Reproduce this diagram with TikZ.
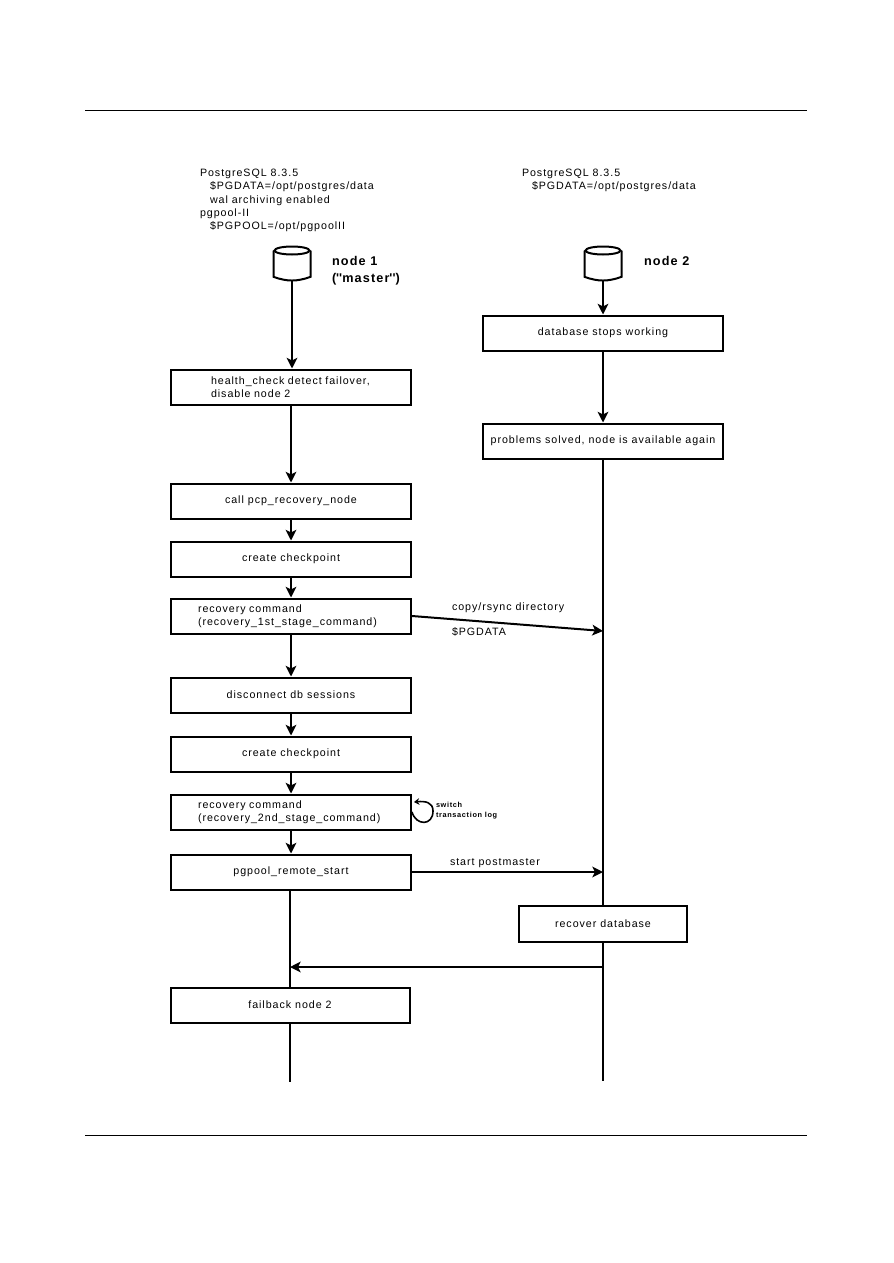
\documentclass[tikz,border=0pt]{standalone}
\usepackage{fontspec}
\setmainfont[LetterSpace=9]{Liberation Sans}
\usetikzlibrary{arrows.meta}
\tikzset{every path/.style={line width=1.5pt,>={Stealth[length=8pt,width=8pt,inset=2pt]}},
  every node/.style={font=\fontsize{8}{10}\selectfont},
  box/.style={draw,fill=white,minimum width=240*0.75pt,minimum height=35*0.75pt,inner sep=0pt,align=center},
  textfirst/.style={box,text width=160*0.75pt,align=left},
  textrec/.style={box,text width=186*0.75pt,align=left},
  note/.style={anchor=north west,align=left,inner sep=0pt},
  nodename/.style={note,font=\fontsize{9.5}{12.75}\selectfont\bfseries},
  db/.style={minimum width=35*0.75pt,minimum height=31*0.75pt,inner sep=0pt}}
\newcommand{\drawdb}[1]{%
  \draw ([yshift=-3pt]#1.north) ellipse [x radius=13.1pt,y radius=3pt];
  \draw ([yshift=-3pt]#1.north west) -- ([yshift=2pt]#1.south west)
     to[out=-20,in=-160] ([yshift=2pt]#1.south east) -- ([yshift=-3pt]#1.north east);}

\begin{document}
\begin{tikzpicture}[x=0.75pt,y=-0.75pt]
   \useasboundingbox (0,0) rectangle (893,1263);
   \draw[line width=0.75pt] (85,110) -- (807,110);
   \draw[line width=0.75pt] (85,1135) -- (807,1135);
   % node 1 column
   \node[note] (conf1) at (199,168) {PostgreSQL 8.3.5\\
     \hspace*{7.5pt}\$PGDATA=/opt/postgres/data\\
     \hspace*{7.5pt}wal archiving enabled\\
     pgpool-II\\
     \hspace*{7.5pt}\$PGPOOL=/opt/pgpoolII};
   \node[db] (db1) at (292,263) {};
   \drawdb{db1}
   \node[nodename] (name1) at (331,255) {node 1\\(\textquotesingle\textquotesingle master\textquotesingle\textquotesingle)};
   \node[textfirst] (health) at (291,387) {\mbox{health\_check detect failover,}\\disable node 2};
   \node[box] (pcp) at (291,501) {call pcp\_recovery\_node};
   \node[box] (check1) at (291,559) {create checkpoint};
   \node[textrec] (rec1) at (291,616) {recovery command\\(recovery\_1st\_stage\_command)};
   \node[box] (disc) at (291,695) {disconnect db sessions};
   \node[box] (check2) at (291,754) {create checkpoint};
   \node[textrec] (rec2) at (291,812) {recovery command\\(recovery\_2nd\_stage\_command)};
   \node[box] (remote) at (291,872) {pgpool\_remote\_start};
   \node[box,minimum width=239*0.75pt] (fail) at (290,1005) {failback node 2};
   % node 2 column
   \node[note] (conf2) at (521,168) {PostgreSQL 8.3.5\\
     \hspace*{7.5pt}\$PGDATA=/opt/postgres/data};
   \node[db] (db2) at (603,263) {};
   \drawdb{db2}
   \node[nodename] (name2) at (643,255) {node 2};
   \node[box] (stops) at (603,333) {database stops working};
   \node[box] (solved) at (603,441) {problems solved, node is available again};
   \node[box,minimum width=168*0.75pt,minimum height=36*0.75pt] (recover) at (603,924) {recover database};
   \coordinate (end1) at (290,1082);
   \coordinate (end2) at (603,1081);
   \coordinate (copyend) at (603,631);
   \coordinate (startend) at (603,873);
   \coordinate (backstart) at (603,967);
   \coordinate (backend) at (290,967);
   \coordinate (loopend) at (414,802);

   \draw[->] (db1) -- (db1 |- health.north);
   \draw[->] (health) -- (pcp);
   \draw[->] (pcp) -- (check1);
   \draw[->] (check1) -- (rec1);
   \draw[->] (rec1) -- (disc);
   \draw[->] (disc) -- (check2);
   \draw[->] (check2) -- (rec2);
   \draw[->] (rec2) -- (remote);
   \draw (remote.south -| fail) -- (fail);
   \draw (fail) -- (end1);
   \draw[->] (db2) -- (stops);
   \draw[->] (stops) -- (solved);
   \draw (solved) -- (recover);
   \draw (recover) -- (end2);
   \draw[->] (rec1.east) -- (copyend);
   \draw[->] (remote.east) -- (remote.east -| startend);
   \draw[->] (backstart) -- (backend);
   \draw[line width=1.2pt,->,>={Stealth[length=4pt,width=5pt]}] (rec2.east) .. controls (416,826) and (433,826) .. (433,811)
      .. controls (433,802) and (425,801) .. (loopend);

   \node[note] (copylabel) at (451,602) {copy/rsync directory};
   \node[note] (pgdatalabel) at (451,627) {\$PGDATA};
   \node[note] (startlabel) at (449,858) {start postmaster};
   \node[note,font=\fontsize{5.5}{7.5}\selectfont\bfseries] (looplabel) at (435,801) {switch\\transaction log};
\end{tikzpicture}
\end{document}
